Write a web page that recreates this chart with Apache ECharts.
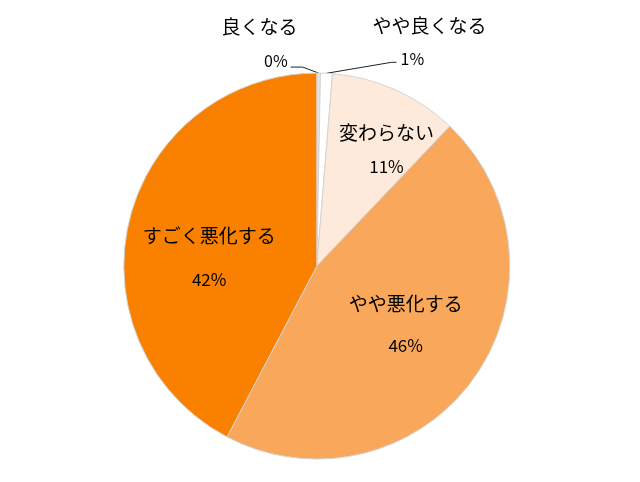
<!DOCTYPE html>
<html>
<head>
<meta charset="utf-8">
<script src="https://cdn.jsdelivr.net/npm/echarts@6/dist/echarts.min.js"></script>
<style>
html, body { margin: 0; padding: 0; background: #fff; }
#chart { width: 640px; height: 482px; }
</style>
</head>
<body>
<div id="chart"></div>
<script>
// 回答の内訳（%）
const categories = ['良くなる', 'やや良くなる', '変わらない', 'やや悪化する', 'すごく悪化する'];
const shares = [0.3, 1.0, 10.8, 45.6, 42.3];
const sliceColors = ['#e6e6e6', '#ffffff', '#fdeada', '#f9a75b', '#fa8000'];

// 内側ラベルの行間用スタイル名
const pctStyle = ['pl', 'pr', 'pa', 'pb', 'pc'];

const chart = echarts.init(document.getElementById('chart'));

const font = '"Noto Sans CJK JP", "Noto Sans", sans-serif';

function placeLabel(p) {
    const i = p.dataIndex;
    if (i === 0 || i === 1) {
        const pts = p.labelLinePoints;
        const a = pts ? pts[0] : [p.rect.x + p.rect.width / 2, p.rect.y];
        if (i === 0) {
            return {
                x: a[0] - 21, y: a[1] - 2, align: 'right', verticalAlign: 'bottom',
                labelLinePoints: [a, [a[0] - 16, a[1] - 6], [a[0] - 28, a[1] - 6]]
            };
        }
        return {
            x: a[0] + 46, y: a[1] - 4, align: 'left', verticalAlign: 'bottom',
            labelLinePoints: [a, [a[0] + 65, a[1] - 11], [a[0] + 70, a[1] - 11]]
        };
    }
    const shift = { 2: [29, -21], 3: [8, 10], 4: [-11, 25] }[i];
    return { dx: shift[0], dy: shift[1] };
}

const option = {
    backgroundColor: '#fff',
    animation: false,
    series: [{
        type: 'pie',
        center: ['49.5%', '55.2%'],
        radius: 193,
        startAngle: 90,
        clockwise: true,
        avoidLabelOverlap: false,
        itemStyle: { borderColor: '#d4d4d4', borderWidth: 1 },
        label: {
            show: true,
            position: 'inside',
            fontFamily: font,
            color: '#000',
            formatter: function (p) {
                const n = p.dataIndex < 2 ? 'm' : 'n';
                return '{' + n + '|' + p.name + '}\n{' + pctStyle[p.dataIndex] + '|' + Math.round(p.percent) + '%}';
            },
            rich: {
                n: { fontFamily: font, fontSize: 19, lineHeight: 24, color: '#000' },
                m: { fontFamily: font, fontSize: 19, lineHeight: 48, color: '#000' },
                pa: { fontFamily: font, fontSize: 17, lineHeight: 42, color: '#000' },
                pb: { fontFamily: font, fontSize: 17, lineHeight: 60, color: '#000' },
                pc: { fontFamily: font, fontSize: 17, lineHeight: 62, color: '#000' },
                pl: { fontFamily: font, fontSize: 16, lineHeight: 20, color: '#000', align: 'right', padding: [0, 10, 0, 0] },
                pr: { fontFamily: font, fontSize: 16, lineHeight: 20, color: '#000', align: 'left', padding: [0, 0, 0, 28] }
            }
        },
        labelLine: { show: false },
        labelLayout: placeLabel,
        data: categories.map(function (name, i) {
            const item = { name: name, value: shares[i], itemStyle: { color: sliceColors[i] } };
            if (i < 2) {
                item.label = { position: 'outside' };
                item.labelLine = { show: true, length: 10, length2: 10, lineStyle: { color: '#222', width: 1 } };
            }
            return item;
        })
    }]
};

chart.setOption(option);
</script>
</body>
</html>
